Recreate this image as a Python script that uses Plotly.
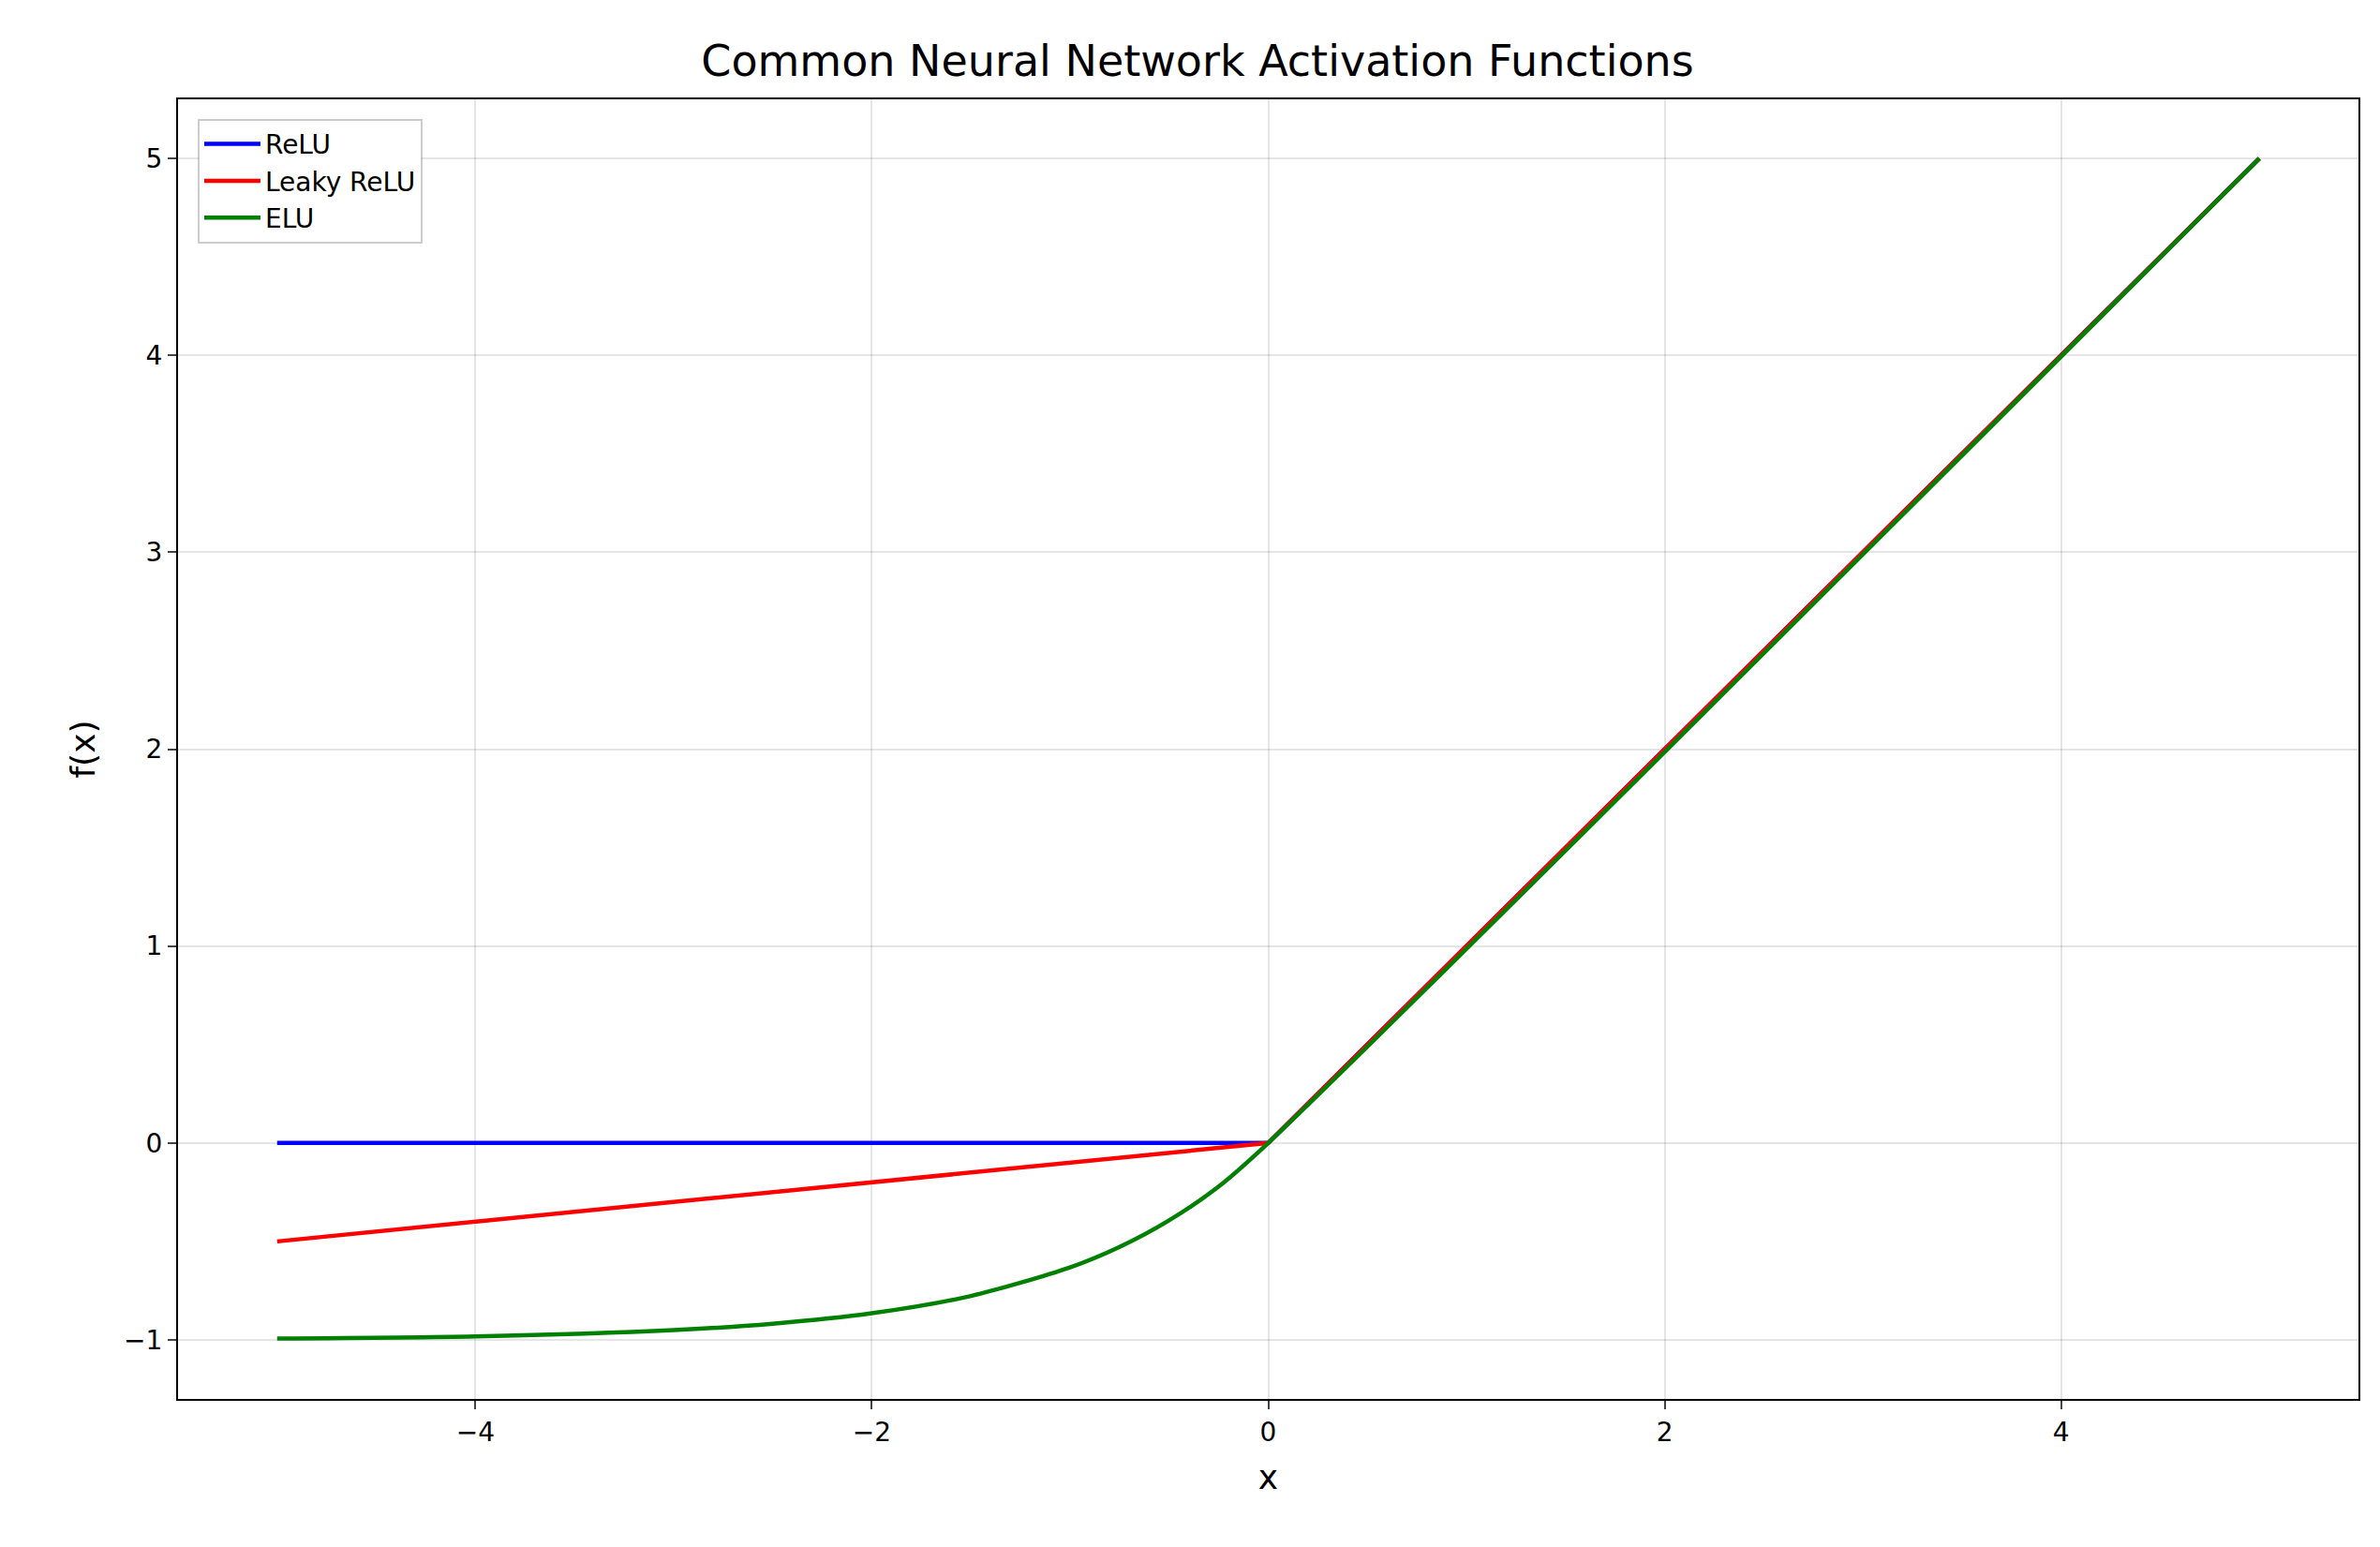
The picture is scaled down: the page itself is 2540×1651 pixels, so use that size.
import plotly.graph_objects as go

relu_x = [-5, 0, 5]
relu_y = [0, 0, 5]
leaky_x = [-5, 0, 5]
leaky_y = [-0.5, 0, 5]
elu_x = [-5, -4, -3, -2.5, -2, -1.5, -1, -0.75, -0.5, -0.25, 0, 5]
elu_y = [-0.993, -0.982, -0.950, -0.918, -0.865, -0.777, -0.632, -0.528, -0.393, -0.221, 0, 5]

F = "DejaVu Sans"
fig = go.Figure()
fig.add_trace(go.Scatter(x=relu_x, y=relu_y, mode="lines", name="ReLU", line=dict(color="blue", width=4.5)))
fig.add_trace(go.Scatter(x=leaky_x, y=leaky_y, mode="lines", name="Leaky ReLU", line=dict(color="red", width=4.5)))
fig.add_trace(go.Scatter(x=elu_x, y=elu_y, mode="lines", name="ELU", line=dict(color="green", width=4.5, shape="spline", smoothing=0.8)))

ax = dict(showline=True, mirror=True, linecolor="black", linewidth=2, ticks="outside", ticklen=9, tickwidth=2,
          showgrid=True, gridcolor="rgba(0,0,0,0.1)", gridwidth=2, zeroline=False,
          tickfont=dict(family=F, size=28, color="black"))
fig.update_layout(
    width=2540, height=1651, plot_bgcolor="white", paper_bgcolor="white",
    margin=dict(l=182, r=31, t=98, b=166),
    title=dict(text="Common Neural Network Activation Functions", x=0.5, xanchor="center", y=0.975,
               font=dict(family=F, size=46, color="black")),
    xaxis=dict(ax, range=[-5.5, 5.5], tickvals=[-4, -2, 0, 2, 4], ticktext=["−4", "−2", "0", "2", "4"],
               title=dict(text="x", font=dict(family=F, size=36, color="black"), standoff=20)),
    yaxis=dict(ax, range=[-1.3, 5.3], tickvals=[-1, 0, 1, 2, 3, 4, 5], ticktext=["−1", "0", "1", "2", "3", "4", "5"],
               title=dict(text="f(x)", font=dict(family=F, size=36, color="black"), standoff=20)),
    legend=dict(x=0.009, y=0.985, xanchor="left", yanchor="top", bgcolor="white", bordercolor="rgba(0,0,0,0.2)",
                borderwidth=2, font=dict(family=F, size=28, color="black"), itemwidth=60, tracegroupgap=8),
)
fig.write_html("out.html")
